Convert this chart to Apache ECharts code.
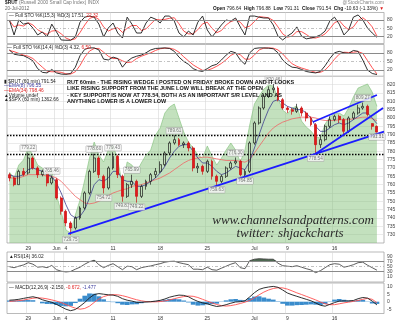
<!DOCTYPE html>
<html>
<head>
<meta charset="utf-8">
<title>$RUT 60 min</title>
<script src="https://cdn.jsdelivr.net/npm/echarts@6/dist/echarts.min.js"></script>
<style>
html,body{margin:0;padding:0;background:#fff;}
#chart{width:400px;height:323px;}
</style>
</head>
<body>
<div id="chart"></div>
<script>
// ---- $RUT hourly candles, grouped two per session (May 24 .. Jul 20, 2012) ----
const opens  = [766,764,760,768,767,776,770,766,767,761, 763,752,744,737,734,740,746,755,768,776, 765,758,770,777,765,753,760,762,753,759, 762,766,768,772,779,785,787,784,785,782, 770,771,768,774,765,762,765,770,773,774, 766,768,785,797,806,813,817,818,811,806, 805,804,806,803,800,796,784,787,795,799, 801,799,792,800,803,806,807,796.64,795];
const closes = [764,760,768,766,776,770,766,768,761,764, 752,744,737,734,740,746,755,768,776,766, 758,770,777,766,753,760,762,753,759,762, 766,768,772,779,785,787,784,785,782,770, 771,768,774,765,762,765,770,773,774,766, 768,785,797,806,813,817,818,811,806,805, 804,806,803,800,796,784,787,795,799,801, 799,792,800,803,806,807,802.17,795,791.54];
const highs  = [767,765,769,770,779.22,777,771,769,768,765.46, 764,753,745,738,741,747,756,769,778.60,777, 766,771,779.43,778,766,761,765.99,763,760,763, 767,770,774,780,786,789.61,788,786,786,783, 773,772,775,775,766,766,771,774,776.30,775, 769,786,798,807,814,819,820.46,819,812,807, 806,808.5,807,804,801,797,790,796,801,802, 802,800,801,804,808,809.27,808,796.88,795.5];
const lows   = [762,759,760,765,766,769,764,765,759,760, 751,742,735,729.75,733,739,745,754,767,764, 754.72,757,769,764,749.81,752,758,749.22,752,757, 760,764,767,771,778,784,783,782,780,768, 767,766,767,763,759.63,761,764,769,772,765, 764.85,767,784,796,805,812,815,810,805,803, 802,803,801,798,795,778.54,782,786,794,798, 797,790,791,799,802,805,801,793,791.31];

// moving averages on the price panel
const ema8  = [766,765,765,766,769,770,769,768,766,765, 761,755,748,742,740,741,745,752,760,763, 762,764,768,768,763,762,762,759,759,760, 762,764,767,771,776,780,783,784,784,780, 776,773,773,771,768,766,767,769,771,770, 769,774,782,790,798,805,810,811,809,807, 806,805,805,803,800,795,792,792,794,796, 797,796,797,799,801,803,803,800,796.55];
const ema34 = [764,764,764,765,766,766,766,766,765,765, 764,762,759,756,753,751,749,748.5,749,750, 752,753.5,755,756,757,757.5,759,759.5,760,761, 762,763,764,765.5,767,769,771,773,774.5,775.5, 776,776.5,776.5,776,775.5,775,774.5,774.5,774.5,774, 773.5,775,779,783,787,791,794,796,797.5,798.5, 799.5,800,800.5,800.5,800.5,800,799,798.5,798.5,798.5, 799,799,799,799.5,800,800.5,800.5,799.5,798.46];

// $SPX hourly, drawn as the shaded backdrop
const spx = [1313.8,1309.4,1319.0,1322.8,1331.7,1326.5,1319.0,1316.8,1313.8,1315.3, 1296.7,1284.1,1270.7,1268.5,1281.9,1293.0,1307.9,1324.2,1336.1,1326.5, 1321.3,1330.2,1333.9,1322.8,1304.2,1321.3,1319.0,1313.8,1320.5,1326.5, 1330.2,1341.3,1346.5,1357.7,1362.2,1364.4,1354.0,1343.6,1336.1,1331.7, 1326.5,1324.2,1333.2,1325.7,1319.0,1324.2,1330.2,1335.4,1330.2,1321.3, 1330.2,1348.8,1364.4,1370.3,1375.5,1378.5,1377.8,1368.8,1359.9,1357.0, 1361.4,1362.9,1351.7,1347.3,1344.3,1339.9,1339.1,1349.5,1354.7,1357.0, 1357.7,1355.5,1361.4,1369.6,1376.3,1377.8,1379.3,1373.3,1362.66];

// stochastics
const stoFastK = [80,26,80,65,69,51,26,37,19,65, 37,8,7,7,19,72,90,94,90,65, 19,51,69,33,15,90,65,33,33,69, 90,83,69,94,94,76,33,19,40,26, 72,94,44,19,40,62,80,76,87,55, 26,94,94,90,87,87,62,22,8,22, 33,55,22,12,15,19,26,40,76,90, 65,26,44,90,98,80,51,33,17.51];
const stoFastD = [78,55,62,58,70,62,45,35,28,40, 42,30,15,8,12,35,62,85,92,82, 55,40,48,52,35,50,60,60,42,48, 65,82,80,82,86,88,66,40,30,30, 45,66,72,50,34,42,62,74,80,72, 52,58,74,92,90,88,78,55,30,18, 22,38,38,28,16,15,20,30,48,70, 78,58,45,55,78,88,75,55,22.32];
const stoSlowK = [90,75,72,70,62,52,25,12,10,22, 10,6,5,8,30,70,92,97,97,90, 58,55,65,60,30,50,62,68,72,80, 90,95,96,97,95,85,65,50,40,25, 18,15,25,35,40,55,72,85,80,55, 40,80,95,97,97,96,94,80,55,40, 30,28,22,15,12,10,15,35,60,80, 85,80,78,88,85,55,20,8,4.32];
const stoSlowD = [88,84,78,72,68,60,45,30,16,14, 14,12,7,6,14,36,65,86,95,95, 82,68,60,60,52,46,48,60,68,74, 80,88,94,96,96,92,82,66,52,38, 28,19,19,25,33,43,56,71,79,73, 58,58,72,90,96,97,96,90,76,58, 42,33,27,22,17,12,12,20,37,58, 75,82,81,82,84,78,53,28,6.50];

// RSI(14)
const rsi = [50,46,52,57,66,60,48,50,46,55, 38,32,29,31,40,48,60,70,76,58, 46,55,62,50,38,52,50,38,46,50, 53,58,62,68,71,72,66,62,58,40, 40,38,48,38,36,44,52,60,66,46, 42,74,80,82,81,80,80,64,54,52, 50,54,48,42,37,26,34,46,58,62, 60,48,52,58,66,68,56,46,36.02];

// MACD(12,26,9)
const macd   = [1.0,1.2,1.6,2.2,2.8,3.3,2.6,1.3,0.4,-0.4, -1.8,-3.4,-5.0,-6.0,-5.2,-3.0,-0.5,2.5,4.8,5.4, 5.0,4.6,4.4,3.6,2.0,1.0,0.4,-0.4,-0.4,-0.2, 0.0,0.4,0.9,1.8,3.0,3.8,4.4,4.2,3.3,1.6, 0.2,-0.8,-1.4,-2.4,-3.2,-2.8,-2.0,-1.0,-0.2,0.0, 0.6,3.2,6.0,8.2,9.2,9.8,10.2,9.6,7.8,5.8, 4.6,3.6,2.6,1.6,0.6,-0.8,-2.4,-3.0,-1.8,-0.6, 0.4,0.5,0.5,0.8,2.0,2.8,2.4,0.4,-2.150];
const signal = [0.2,0.4,0.7,1.1,1.7,2.3,2.6,2.4,1.9,1.2, 0.4,-0.6,-1.9,-3.2,-4.3,-5.0,-4.5,-3.0,-0.5,1.8, 3.4,4.3,4.7,4.6,4.0,3.2,2.2,1.3,0.6,0.1, -0.1,-0.1,0.1,0.5,1.2,2.0,2.8,3.4,3.8,3.6, 2.8,1.6,0.4,-0.8,-1.9,-2.6,-2.9,-2.6,-2.0,-1.2, -0.3,0.8,2.6,4.6,6.4,7.8,8.8,9.3,9.2,8.4, 7.2,5.9,4.8,3.6,2.4,1.2,-0.2,-1.4,-2.0,-2.0, -1.4,-0.8,-0.3,0.2,0.8,1.6,2.2,1.6,-0.672];
const macdHist = [0.8,0.8,0.9,1.1,1.1,1.0,0.0,-1.1,-1.5,-1.6, -2.2,-2.8,-3.1,-2.8,-0.9,2.0,4.0,5.5,5.3,3.6, 1.6,0.3,-0.3,-1.0,-2.0,-2.2,-1.8,-1.7,-1.0,-0.3, 0.1,0.5,0.8,1.3,1.8,1.8,1.6,0.8,-0.5,-2.0, -2.6,-2.4,-1.8,-1.6,-1.3,-0.2,0.9,1.6,1.8,1.2, 0.9,2.4,3.4,3.6,2.8,2.0,1.4,0.3,-1.4,-2.6, -2.6,-2.3,-2.2,-2.0,-1.8,-2.0,-2.2,-1.6,0.2,1.4, 1.8,1.3,0.8,0.6,1.2,1.2,0.2,-1.2,-1.477];

// date ticks (bar index where each label sits)
const tickAt   = [4, 10, 12, 22, 32, 42, 52, 59, 69];
const tickText = ['29', 'Jun', '4', '11', '18', '25', 'Jul', '9', '16'];

// swing highs / lows that carry a price tag
const peakBars   = [4, 9, 18, 22, 26, 35, 48, 56, 75];
const troughBars = [13, 20, 24, 27, 44, 50, 65, 78];

// horizontal support / resistance levels
const srLevels = [789.61, 778.54];

// hand-drawn trend lines: [bar position, price] pairs
const supportLine = [[13.0, 730.5], [80.0, 791.8]];
const wedgeUpper  = [[64.9, 797.6], [78.5, 813.8]];
const wedgeLower  = [[65.5, 778.5], [79.8, 806.0]];

// ---------------------------------------------------------------
const SANS = 'Liberation Sans, Arial, sans-serif';
const nCats = opens.length + 1;
const cats = [];
for (let i = 0; i < nCats; i++) cats.push(String(i));
const tickName = {};
tickAt.forEach((b, k) => { tickName[b] = tickText[k]; });
const isTick = (i) => tickName[i] !== undefined;

const gridBase = { left: 7, right: 16, show: true, borderColor: '#9c9c9c', borderWidth: 0.7 };
const grids = [
  Object.assign({ top: 12.5, height: 31 }, gridBase),
  Object.assign({ top: 44.5, height: 31.8 }, gridBase),
  Object.assign({ top: 76.33, height: 166.67 }, gridBase),
  Object.assign({ top: 252, height: 30 }, gridBase),
  Object.assign({ top: 283, height: 30.5 }, gridBase)
];

function catAxis(gi, showLabels) {
  return {
    type: 'category', gridIndex: gi, data: cats, boundaryGap: true,
    axisLine: { show: false }, axisTick: { show: false },
    axisLabel: {
      show: showLabels, interval: (i) => isTick(i),
      formatter: (v, i) => tickName[i] || '',
      fontSize: 5, color: '#333', margin: 3, fontFamily: SANS
    },
    splitLine: { show: true, interval: (i) => isTick(i), lineStyle: { color: '#d6d6d6', width: 0.6 } }
  };
}
function valAxis(gi, min, max, extra) {
  return Object.assign({
    type: 'value', gridIndex: gi, position: 'right', min, max,
    axisLine: { show: false }, axisTick: { show: false },
    splitLine: { show: false },
    axisLabel: { fontSize: 5, color: '#444', margin: 3, fontFamily: SANS }
  }, extra || {});
}

const levelLines = (levels) => ({
  silent: true, symbol: 'none', label: { show: false }, animation: false,
  data: levels.map(l => ({ yAxis: l[0], lineStyle: { color: l[1], width: l[2], type: l[3] } }))
});
const oscLevels = [[80, '#8a8a8a', 1, 'solid'], [20, '#8a8a8a', 1, 'solid'], [50, '#a8a8a8', 0.7, [3, 2, 1, 2]]];
const rsiLevels = [[70, '#8a8a8a', 1, 'solid'], [30, '#8a8a8a', 1, 'solid'], [50, '#a8a8a8', 0.7, [3, 2, 1, 2]]];

const lineS = (name, data, xi, yi, color, width, z) => ({
  name, type: 'line', data, xAxisIndex: xi, yAxisIndex: yi, symbol: 'none',
  lineStyle: { color, width }, z: z || 3, silent: true
});

const candles = opens.map((o, i) => [o, closes[i], lows[i], highs[i]]);
const priceTag = (pos) => ({
  show: true, position: pos, distance: 1.5, fontSize: 4.6, fontFamily: SANS, color: '#555',
  backgroundColor: '#f6f6f6', borderColor: '#9a9a9a', borderWidth: 0.5, padding: [0.5, 1],
  formatter: (p) => p.value[1].toFixed(2)
});

const rsiBase = rsi.map(() => 70);
const rsiOver = rsi.map(v => Math.max(v - 70, 0));

const option = {
  animation: false,
  backgroundColor: '#ffffff',
  grid: grids,
  xAxis: [
    catAxis(0, false), catAxis(1, false), catAxis(2, true), catAxis(3, false), catAxis(4, true),
    { type: 'value', gridIndex: 2, min: 0, max: nCats, show: false }
  ],
  yAxis: [
    valAxis(0, -4.7, 106.8, { axisLabel: { customValues: [20, 50, 80], fontSize: 5, color: '#444', margin: 3, fontFamily: SANS } }),
    valAxis(1, -1.75, 108.8, { axisLabel: { customValues: [20, 50, 80], fontSize: 5, color: '#444', margin: 3, fontFamily: SANS } }),
    valAxis(2, 725, 825, {
      interval: 5,
      splitLine: { show: true, lineStyle: { color: '#dedede', width: 0.6 } },
      axisLabel: { fontSize: 5, color: '#444', margin: 3, fontFamily: SANS, formatter: (v) => (v <= 725 || v >= 825) ? '' : String(v) }
    }),
    { type: 'value', gridIndex: 2, min: 1261, max: 1385, show: false, splitLine: { show: false } },
    valAxis(3, -11.2, 108.8, { axisLabel: { customValues: [10, 30, 50, 70, 90], fontSize: 5, color: '#444', margin: 3, fontFamily: SANS } }),
    valAxis(4, -7.87, 12.47, { axisLabel: { customValues: [-5, 0, 5, 10], fontSize: 5, color: '#444', margin: 3, fontFamily: SANS } })
  ],
  series: [
    // Full STO panels
    Object.assign(lineS('%D fast', stoFastD, 0, 0, '#ff4040', 0.9), { markLine: levelLines(oscLevels) }),
    lineS('%K fast', stoFastK, 0, 0, '#1a1a1a', 0.9, 4),
    Object.assign(lineS('%D slow', stoSlowD, 1, 1, '#ff4040', 0.9), { markLine: levelLines(oscLevels) }),
    lineS('%K slow', stoSlowK, 1, 1, '#1a1a1a', 0.9, 4),

    // $SPX backdrop
    {
      name: '$SPX', type: 'line', data: spx, xAxisIndex: 2, yAxisIndex: 3, symbol: 'none', silent: true, z: 1,
      lineStyle: { color: '#7fbf78', width: 0.6 },
      areaStyle: { color: 'rgba(128,192,118,0.68)', origin: 'start' }
    },
    lineS('EMA(34)', ema34, 2, 2, '#f06464', 0.8),
    lineS('EMA(8)', ema8, 2, 2, '#3c3c8e', 0.8),
    {
      name: '$RUT', type: 'candlestick', data: candles, xAxisIndex: 2, yAxisIndex: 2, barWidth: 2.4, z: 5, silent: true,
      itemStyle: { color: 'rgba(0,0,0,0)', borderColor: '#1a1a1a', color0: '#e3191c', borderColor0: '#c81010', borderWidth: 0.7 },
      markLine: {
        silent: true, symbol: 'none', label: { show: false }, animation: false,
        lineStyle: { color: '#000', width: 1.3, type: [1.5, 1.5] },
        data: srLevels.map(v => ({ yAxis: v }))
      }
    },
    lineS('support', supportLine, 5, 2, '#1c1cff', 1.8, 6),
    lineS('wedge top', wedgeUpper, 5, 2, '#1c1cff', 1.8, 6),
    lineS('wedge bottom', wedgeLower, 5, 2, '#1c1cff', 1.8, 6),
    {
      type: 'scatter', xAxisIndex: 2, yAxisIndex: 2, symbolSize: 0.1, silent: true, z: 7,
      data: peakBars.map(b => [b, highs[b]]), label: priceTag('top')
    },
    {
      type: 'scatter', xAxisIndex: 2, yAxisIndex: 2, symbolSize: 0.1, silent: true, z: 7,
      data: troughBars.map(b => [b, lows[b]]), label: priceTag('bottom')
    },

    // RSI
    { type: 'line', data: rsiBase, xAxisIndex: 3, yAxisIndex: 4, stack: 'ob', symbol: 'none', silent: true, lineStyle: { opacity: 0 } },
    { type: 'line', data: rsiOver, xAxisIndex: 3, yAxisIndex: 4, stack: 'ob', symbol: 'none', silent: true, lineStyle: { opacity: 0 }, areaStyle: { color: '#4e6a52', opacity: 1 } },
    Object.assign(lineS('RSI', rsi, 3, 4, '#333', 0.8, 4), { markLine: levelLines(rsiLevels) }),

    // MACD
    { type: 'bar', data: macdHist, xAxisIndex: 4, yAxisIndex: 5, barCategoryGap: '0%', silent: true, itemStyle: { color: '#3a8ccc' } },
    lineS('signal', signal, 4, 5, '#ff5050', 0.9),
    lineS('MACD', macd, 4, 5, '#1a1a1a', 0.9, 4)
  ],
  graphic: []
};

// ---- text blocks ----
const T = (x, y, text, style) => ({
  type: 'text', x, y, silent: true, z: 100,
  style: Object.assign({ text, fontSize: 5, fontFamily: SANS, fill: '#333', verticalAlign: 'top', align: 'left' }, style || {})
});
const rich = {
  k: { fontSize: 4.8, fontFamily: SANS, fill: '#222' },
  g: { fontSize: 4.8, fontFamily: SANS, fill: '#777' },
  b: { fontSize: 4.8, fontFamily: SANS, fill: '#111', fontWeight: 'bold' },
  r: { fontSize: 4.8, fontFamily: SANS, fill: '#e02020' },
  u: { fontSize: 4.8, fontFamily: SANS, fill: '#3c3c9e' }
};
const G = option.graphic;
G.push(T(5, 0.5, '{b|$RUT} {g|(Russell 2000 Small Cap Index) INDX}', { rich }));
G.push(T(5, 6.5, '20-Jul-2012', { fontSize: 4.6, fill: '#666' }));
G.push(T(384, 0, '@StockCharts.com', { align: 'right', fontSize: 4.8, fill: '#888' }));
G.push(T(384, 6, '{b|Open} {k|796.64}  {b|High} {k|796.88}  {b|Low} {k|791.31}  {b|Close} {k|791.54}  {b|Chg} {k|-10.63 (-1.33%)} {r|▼}', { align: 'right', rich }));

G.push(T(9, 13.3, '{k|— Full STO %K(15,3) %D(3) 17.51,} {r|22.32}', { rich }));
G.push(T(7, 45.2, '{k|— Full STO %K(14,4) %D(3) 4.32,} {r|6.50}', { rich }));

G.push(T(4, 79, '{k|▮ $RUT (60 min) 791.54}', { rich }));
G.push(T(4, 83.6, '{u|—EMA(8) 796.55}', { rich }));
G.push(T(4, 88.2, '{r|—EMA(34) 798.46}', { rich }));
G.push(T(4, 92.8, '{k|▲Volume undef}', { rich }));
G.push(T(4, 97.4, '{k|▲$SPX (60 min) 1362.66}', { rich }));

const noteLines = [
  'RUT 60min - THE RISING WEDGE I POSTED ON FRIDAY BROKE DOWN AND IT LOOKS',
  'LIKE RISING SUPPORT FROM THE JUNE LOW WILL BREAK AT THE OPEN',
  '- KEY SUPPORT IS NOW AT 778.54, BOTH AS AN IMPORTANT S/R LEVEL AND AS',
  'ANYTHING LOWER IS A LOWER LOW'
];
noteLines.forEach((s, k) => G.push(T(67, 79 + k * 6.6, s, { fontSize: 5.5, fontWeight: 'bold', fill: '#111' })));

G.push(T(293, 221, 'www.channelsandpatterns.com', { align: 'center', verticalAlign: 'middle', fontSize: 13, fontStyle: 'italic', fontFamily: 'Liberation Serif, DejaVu Serif, serif', fill: '#2b2b2b' }));
G.push(T(290, 234, 'twitter: shjackcharts', { align: 'center', verticalAlign: 'middle', fontSize: 13, fontStyle: 'italic', fontFamily: 'Liberation Serif, DejaVu Serif, serif', fill: '#2b2b2b' }));

G.push(T(9, 254.5, '{k|▲RSI(14) 36.02}', { rich }));
G.push(T(9, 285, '{k|— MACD(12,26,9) -2.150,} {r|-0.672,} {u|-1.477}', { rich }));

const chart = echarts.init(document.getElementById('chart'), null, { renderer: 'canvas', width: 400, height: 323, devicePixelRatio: 1 });
chart.setOption(option);
</script>
</body>
</html>
